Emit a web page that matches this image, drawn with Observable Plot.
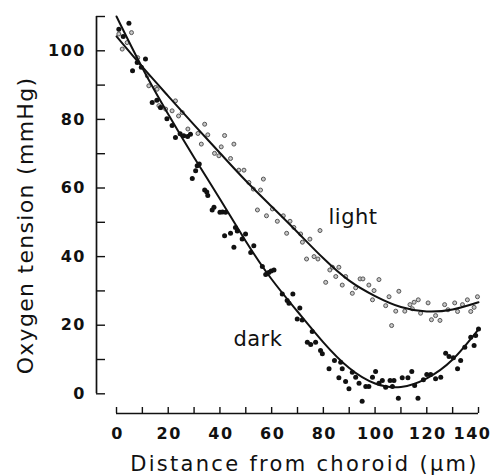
<!DOCTYPE html>
<html><head><meta charset="utf-8">
<script src="https://cdn.jsdelivr.net/npm/d3@7"></script>
<script src="https://cdn.jsdelivr.net/npm/@observablehq/plot@0.6"></script>
<style>html,body{margin:0;padding:0;background:#fff;}</style>
</head><body><div id="chart"></div>
<script>
// Measured data: [distance from choroid (µm), oxygen tension (mmHg)]
const lightPoints = [[0.9,104.9],[2.2,100.5],[4.1,102.4],[5.8,105.3],[8.2,98],[11.9,92.7],[12.5,89.8],[15.1,89.3],[15.7,88.8],[16.4,84],[17.2,83.4],[19,83],[21.5,82.5],[22.8,85.4],[24,81],[25.4,82],[27.6,77.2],[31.5,75.9],[32.8,72.8],[34.1,78.6],[35.3,75.5],[37.9,70.1],[39.6,69.4],[40.5,72],[41.8,75.3],[44.1,68.6],[45.4,72.8],[47.3,65.2],[49.3,65.2],[51.2,61.6],[52.9,59.7],[54.5,53.6],[55.7,59.4],[56.8,62.6],[58,51.9],[60.3,53.9],[62.2,50.3],[64.5,51.9],[65.8,46.8],[67.1,50.3],[68.6,48.5],[71.2,46.6],[71.9,44.2],[73.5,39.3],[74.8,45.1],[76.4,40],[77.9,39.3],[78.7,47.6],[80.9,32.5],[82.5,36.1],[83.5,36.9],[84.8,34.2],[86,36.9],[87.3,31.7],[88.6,34.2],[91.2,29.3],[92.5,30.9],[94.2,33.5],[95.3,33.5],[97.6,31.7],[99,27.4],[99.6,30.1],[101.5,33.3],[104.1,25.7],[105.4,28.3],[106.4,19.9],[108,24.1],[109.2,29.9],[111.5,24.1],[113.5,26],[114.4,24.8],[115.1,26.7],[116.7,27.4],[117.6,23.5],[120.5,26.5],[121.8,21.6],[123.4,22.8],[125.1,21.4],[126.9,26],[128.2,24.5],[130.8,26.5],[131.9,24],[133.8,26],[135.7,27.4],[137,24],[138.3,25.2],[139.6,28.3]];
const darkPoints = [[0.9,106.3],[2.6,104.2],[4.8,108],[6.2,94.2],[8,96.6],[9.6,95.2],[11.2,97.6],[13.8,84.9],[15.6,85.6],[17,83.5],[19.5,80.2],[21.5,78.2],[22.8,74.7],[24.6,75.8],[26,75.2],[27.5,75],[28.6,75.7],[29.3,62.8],[30.6,65],[31.2,66.5],[32,67],[34.1,59.4],[34.9,58.8],[35.3,57.8],[37,53.6],[37.7,54.4],[40,52.9],[41,53],[42.2,52.9],[41.8,46.1],[44.1,46.8],[45.4,42.7],[46,48.5],[46.7,47.5],[48.6,45.1],[49.9,46.6],[51.9,41.2],[53.1,43.2],[56.4,37.1],[57.7,34.8],[58.9,35.4],[59.8,35.8],[60.9,36.1],[64.1,29.1],[66,27.2],[66.7,26.4],[68.2,29.1],[70.9,25],[69.9,21.8],[71.8,21.5],[73.8,15],[75.1,14.4],[75.7,18.2],[77,15],[78.9,12.6],[79.6,11.7],[82.2,7.3],[84.3,9.7],[86.7,9.2],[87.3,7.3],[86,4.7],[88.6,3.6],[89.9,1.5],[91.2,6.3],[92.5,4.8],[93.8,3.1],[95,-2.2],[96.4,2.1],[97.6,2.1],[99,4.8],[100.2,6.5],[101.5,3.1],[102.8,3.9],[104.1,1.9],[105.8,3.9],[106.7,2.1],[107.3,3.9],[109,-1.3],[110.5,4.7],[112.7,4.7],[114.2,6.5],[115.3,2.4],[116.6,-1.3],[118.7,4.1],[120,5.6],[121.5,5.6],[123.4,4.4],[125.4,4.8],[127.3,11.8],[128.6,10.9],[130.3,10.5],[131.9,7.3],[133.1,9.7],[134.7,13.6],[137,16.5],[138.3,14.1],[138.9,17],[140,18.9]];
// Fitted curves
const fitX = [0,10,20,30,40,50,60,70,80,90,100,110,120,130,140];
const lightFitY = [104.2,95.3,86.8,78.4,70.2,62.1,54.6,47.1,39.5,33,28.5,25.3,24,24.6,26.7];
const darkFitY = [110,95,81.5,68.9,56.8,44.5,33.4,24,15,7.5,3,2,4.5,10,18.8];
// Axes
const xTicks = [0,10,20,30,40,50,60,70,80,90,100,110,120,130,140];
const xLabels = [0,20,40,60,80,100,120];
const xLastLabel = [140];
const yTicks = [0,10,20,30,40,50,60,70,80,90,100,110];
const yLabels = [0,20,40,60,80,100];
const xTitle = "Distance from choroid (μm)";
const yTitle = "Oxygen tension (mmHg)";
const seriesLabels = [{text:"light", x:82, y:51.6},{text:"dark", x:45.2, y:16}];

const W = 493, H = 476, mL = 96, mR = 15, mT = 16, mB = 63;
const frameW = W - mL - mR, frameH = H - mT - mB;
const xDomain = [-7.74, 140], yDomain = [-5.74, 110];
const ink = "#111";
const font = "'DejaVu Sans', sans-serif";

const lightFit = fitX.map((x, i) => ({x, y: lightFitY[i]}));
const darkFit = fitX.map((x, i) => ({x, y: darkFitY[i]}));

const tickLabelStyle = {fontSize: 16, fontWeight: "bold", fill: ink, lineAnchor: "middle"};

const chart = Plot.plot({
  width: W, height: H,
  marginLeft: mL, marginRight: mR, marginTop: mT, marginBottom: mB,
  x: {domain: xDomain, axis: null},
  y: {domain: yDomain, axis: null},
  style: {fontFamily: font, background: "#fff", color: ink},
  marks: [
    // axis lines
    Plot.ruleX([xDomain[0]], {y1: yTicks[0], y2: yTicks[yTicks.length - 1], stroke: ink, strokeWidth: 1.7}),
    Plot.ruleY([yDomain[0]], {x1: xTicks[0], x2: xTicks[xTicks.length - 1], stroke: ink, strokeWidth: 1.7}),
    // inward ticks
    Plot.tickY(yTicks, {y: d => d, insetRight: frameW - 9, stroke: ink, strokeWidth: 1.4}),
    Plot.tickX(xTicks, {x: d => d, insetTop: frameH - 6, stroke: ink, strokeWidth: 1.4}),
    // tick labels
    Plot.text(xLabels, {x: d => d, text: d => String(d), frameAnchor: "bottom", textAnchor: "middle", dx: 1, dy: 20, ...tickLabelStyle}),
    Plot.text(xLastLabel, {x: d => d, text: d => String(d), frameAnchor: "bottom", textAnchor: "middle", dx: -6, dy: 20, ...tickLabelStyle}),
    Plot.text(yLabels, {y: d => d, text: d => String(d), frameAnchor: "left", dx: -10.5, textAnchor: "end", ...tickLabelStyle}),
    // axis titles
    Plot.text([xTitle], {text: d => d, frameAnchor: "bottom", textAnchor: "middle", lineAnchor: "middle", dx: 17, dy: 50.5, fontSize: 21, fill: ink}),
    Plot.text([yTitle], {text: d => d, frameAnchor: "left", textAnchor: "middle", lineAnchor: "middle", dx: -71, dy: 10.5, rotate: -90, fontSize: 22, fill: ink}),
    // data
    Plot.dot(lightPoints, {x: d => d[0], y: d => d[1], r: 2, stroke: "#555", fill: "#c8c8c8", strokeWidth: 1}),
    Plot.line(lightFit, {x: "x", y: "y", curve: "natural", stroke: ink, strokeWidth: 2}),
    Plot.line(darkFit, {x: "x", y: "y", curve: "natural", stroke: ink, strokeWidth: 2}),
    Plot.dot(darkPoints, {x: d => d[0], y: d => d[1], r: 2.5, fill: ink, stroke: null}),
    // series labels
    Plot.text(seriesLabels, {x: "x", y: "y", text: "text", textAnchor: "start", lineAnchor: "middle", fontSize: 21, fill: ink})
  ]
});
// letter spacing for the text marks, in mark order
const spacing = ["1.5px", "1.5px", "1.5px", "2.3px", "1.3px", "0.5px"];
chart.querySelectorAll('g[aria-label="text"]').forEach((g, i) => {
  if (spacing[i]) g.style.letterSpacing = spacing[i];
});
document.getElementById("chart").appendChild(chart);
</script>
</body></html>
